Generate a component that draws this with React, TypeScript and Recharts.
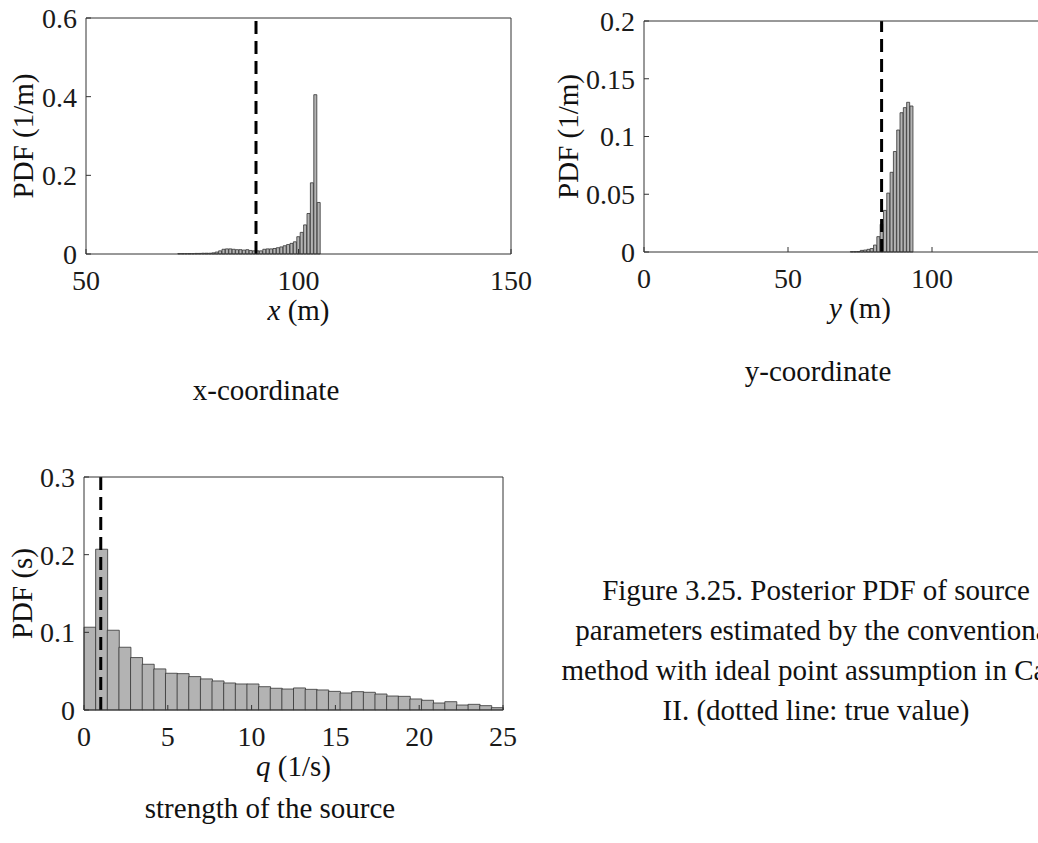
import React from "react";
import {
  ComposedChart,
  Bar,
  XAxis,
  YAxis,
  ReferenceLine,
} from "recharts";

const FONT = '"Liberation Serif", "Times New Roman", serif';

// x-coordinate histogram (bin centres in m, PDF in 1/m)
const xBins = [
  72.0, 72.8, 73.6, 74.4, 75.2, 76.0, 76.8, 77.6, 78.4, 79.2, 80.0, 80.8,
  81.6, 82.4, 83.2, 84.0, 84.8, 85.6, 86.4, 87.2, 88.0, 88.8, 89.6, 90.4,
  91.2, 92.0, 92.8, 93.6, 94.4, 95.2, 96.0, 96.8, 97.6, 98.4, 99.2, 100.0,
  100.8, 101.6, 102.4, 103.2, 104.0, 104.8,
];
const xPdf = [
  0.001, 0.001, 0.001, 0.001, 0.001, 0.0015, 0.0015, 0.002, 0.002, 0.002,
  0.003, 0.005, 0.008, 0.012, 0.013, 0.013, 0.012, 0.011, 0.011, 0.01,
  0.011, 0.009, 0.008, 0.008, 0.008, 0.012, 0.013, 0.013, 0.014, 0.016,
  0.018, 0.021, 0.024, 0.027, 0.031, 0.044, 0.055, 0.074, 0.103, 0.181,
  0.405, 0.131,
];
const xTrue = 90;

// y-coordinate histogram
const yBins = [
  72.225, 73.375, 74.525, 75.675, 76.825, 77.975, 79.125, 80.275, 81.425,
  82.575, 83.725, 84.875, 86.025, 87.175, 88.325, 89.475, 90.625, 91.775,
  92.925,
];
const yPdf = [
  0.0003, 0.0003, 0.0004, 0.0014, 0.0017, 0.0023, 0.003, 0.006, 0.0133,
  0.024, 0.036, 0.051, 0.069, 0.087, 0.1056, 0.1206, 0.125, 0.1296, 0.1264,
];
const yTrue = 82.5;

// source strength histogram (1/s)
const qBins = [
  0.347, 1.042, 1.736, 2.431, 3.125, 3.819, 4.514, 5.208, 5.903, 6.597,
  7.292, 7.986, 8.681, 9.375, 10.069, 10.764, 11.458, 12.153, 12.847, 13.542,
  14.236, 14.931, 15.625, 16.319, 17.014, 17.708, 18.403, 19.097, 19.792,
  20.486, 21.181, 21.875, 22.569, 23.264, 23.958, 24.653,
];
const qPdf = [
  0.1066, 0.207, 0.1027, 0.0808, 0.0675, 0.0589, 0.0529, 0.0473, 0.0468,
  0.043, 0.04, 0.0374, 0.0348, 0.0335, 0.0335, 0.03, 0.028, 0.027, 0.0284,
  0.0266, 0.0258, 0.024, 0.0219, 0.0236, 0.0228, 0.0206, 0.018, 0.0176,
  0.0142, 0.0125, 0.009, 0.0107, 0.0064, 0.0073, 0.0056, 0.003,
];
const qTrue = 1;

const captionLines = [
  "Figure 3.25. Posterior PDF of source",
  "parameters estimated by the conventional",
  "method with ideal point assumption in Case",
  "II. (dotted line: true value)",
];

const toRows = (bins: number[], vals: number[]) =>
  bins.map((b, i) => ({ v: b, pdf: vals[i] }));

type PanelProps = {
  left: number;
  top: number;
  width: number;
  height: number;
  margin: { top: number; right: number; bottom: number; left: number };
  rows: { v: number; pdf: number }[];
  xDomain: [number, number];
  xTicks: number[];
  yDomain: [number, number];
  yTicks: number[];
  yAxisWidth: number;
  yTitleX: number;
  truth: number;
  xTitle: React.ReactNode;
  yTitle: string;
};

function Panel(p: PanelProps) {
  const axisColor = "#333";
  const tickStyle = { fontSize: 28, fill: "#1a1a1a", fontFamily: FONT };
  return (
    <div style={{ position: "absolute", left: p.left, top: p.top }}>
      <ComposedChart
        width={p.width}
        height={p.height}
        data={p.rows}
        margin={p.margin}
        barCategoryGap={0}
        barGap={0}
      >
        <XAxis
          xAxisId="b"
          type="number"
          dataKey="v"
          domain={p.xDomain}
          ticks={p.xTicks}
          interval={0}
          height={80}
          tickSize={-5}
          tickMargin={21}
          stroke={axisColor}
          tick={tickStyle}
          label={(lp: any) => {
            const vb = lp.viewBox || {};
            return (
              <text
                x={vb.x + vb.width / 2}
                y={vb.y + 66}
                textAnchor="middle"
                fontSize={29}
                fontFamily={FONT}
                fill="#111"
              >
                {p.xTitle}
              </text>
            );
          }}
        />
        <XAxis
          xAxisId="t"
          orientation="top"
          type="number"
          dataKey="v"
          domain={p.xDomain}
          ticks={p.xTicks}
          interval={0}
          height={1}
          tickSize={-5}
          tick={false}
          stroke={axisColor}
        />
        <YAxis
          yAxisId="l"
          type="number"
          domain={p.yDomain}
          ticks={p.yTicks}
          interval={0}
          width={p.yAxisWidth}
          tickSize={-5}
          tickMargin={14}
          stroke={axisColor}
          tick={tickStyle}
          label={(lp: any) => {
            const vb = lp.viewBox || {};
            const cx = vb.x + p.yTitleX;
            const cy = vb.y + vb.height / 2;
            return (
              <text
                x={cx}
                y={cy}
                transform={`rotate(-90 ${cx} ${cy})`}
                textAnchor="middle"
                fontSize={29}
                fontFamily={FONT}
                fill="#111"
              >
                {p.yTitle}
              </text>
            );
          }}
        />
        <YAxis
          yAxisId="r"
          orientation="right"
          type="number"
          domain={p.yDomain}
          ticks={p.yTicks}
          interval={0}
          width={1}
          tickSize={-5}
          tick={false}
          stroke={axisColor}
        />
        <Bar
          xAxisId="b"
          yAxisId="l"
          dataKey="pdf"
          fill="#b3b3b3"
          stroke="#333"
          strokeWidth={0.8}
          isAnimationActive={false}
        />
        <ReferenceLine
          xAxisId="b"
          yAxisId="l"
          x={p.truth}
          stroke="#000"
          strokeWidth={3}
          strokeDasharray="13 7"
        />
      </ComposedChart>
    </div>
  );
}

export default function App() {
  const capStyle = { fontSize: 29, fontFamily: FONT, fill: "#111" };
  return (
    <div
      style={{
        position: "absolute",
        left: 0,
        top: 0,
        width: 1038,
        height: 843,
        overflow: "hidden",
        background: "#fff",
        fontFamily: FONT,
      }}
    >
      <Panel
        left={0}
        top={0}
        width={540}
        height={345}
        margin={{ top: 17, right: 28, bottom: 11, left: 0 }}
        rows={toRows(xBins, xPdf)}
        xDomain={[50, 150]}
        xTicks={[50, 100, 150]}
        yDomain={[0, 0.6]}
        yTicks={[0, 0.2, 0.4, 0.6]}
        yAxisWidth={86}
        yTitleX={33}
        truth={xTrue}
        xTitle={
          <>
            <tspan fontStyle="italic">x</tspan>
            {" (m)"}
          </>
        }
        yTitle="PDF (1/m)"
      />
      <Panel
        left={520}
        top={0}
        width={600}
        height={345}
        margin={{ top: 20, right: 43, bottom: 13, left: 0 }}
        rows={toRows(yBins, yPdf)}
        xDomain={[0, 150]}
        xTicks={[0, 50, 100, 150]}
        yDomain={[0, 0.2]}
        yTicks={[0, 0.05, 0.1, 0.15, 0.2]}
        yAxisWidth={124}
        yTitleX={58}
        truth={yTrue}
        xTitle={
          <>
            <tspan fontStyle="italic">y</tspan>
            {" (m)"}
          </>
        }
        yTitle="PDF (1/m)"
      />
      <Panel
        left={0}
        top={440}
        width={540}
        height={360}
        margin={{ top: 36, right: 36, bottom: 10, left: 0 }}
        rows={toRows(qBins, qPdf)}
        xDomain={[0, 25]}
        xTicks={[0, 5, 10, 15, 20, 25]}
        yDomain={[0, 0.3]}
        yTicks={[0, 0.1, 0.2, 0.3]}
        yAxisWidth={84}
        yTitleX={32}
        truth={qTrue}
        xTitle={
          <>
            <tspan fontStyle="italic">q</tspan>
            {" (1/s)"}
          </>
        }
        yTitle="PDF (s)"
      />
      <svg
        width={1038}
        height={843}
        style={{ position: "absolute", left: 0, top: 0, pointerEvents: "none" }}
      >
        <text x={266} y={400} textAnchor="middle" {...capStyle}>
          x-coordinate
        </text>
        <text x={818} y={381} textAnchor="middle" {...capStyle}>
          y-coordinate
        </text>
        <text x={270} y={818} textAnchor="middle" {...capStyle}>
          strength of the source
        </text>
        {captionLines.map((line, i) => (
          <text
            key={i}
            x={816}
            y={600 + i * 40}
            textAnchor="middle"
            {...capStyle}
          >
            {line}
          </text>
        ))}
      </svg>
    </div>
  );
}
